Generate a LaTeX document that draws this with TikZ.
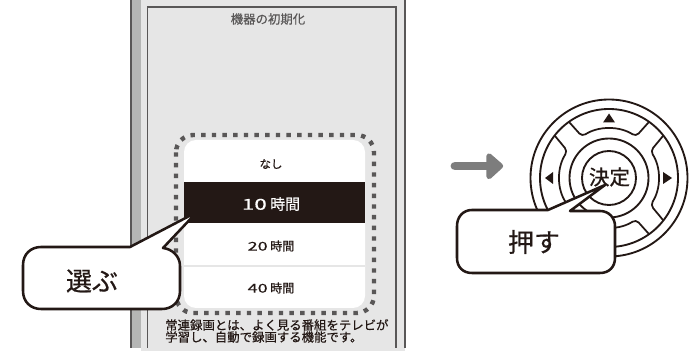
\documentclass[tikz,border=0pt]{standalone}
\usepackage{fontspec}
\setmainfont[FakeBold=0.6]{Noto Sans CJK JP}
\newfontfamily\widedigits[FakeStretch=1.5,FakeBold=0.6]{Noto Sans CJK JP}
\definecolor{ink}{HTML}{231815}
\definecolor{panel}{HTML}{E6E6E6}
\definecolor{strip}{HTML}{B5B6B5}
\definecolor{dots}{HTML}{595757}
\definecolor{arrowgrey}{HTML}{7D7D7D}
\tikzset{
  frameline/.style={draw=dots,line width=1.1pt},
  callout/.style={draw=ink,fill=white,line width=1.9pt,line join=round},
  remoteline/.style={draw=ink,line width=1.4pt},
  keyline/.style={draw=ink,line width=1.3pt,rounded corners=3pt},
  tri/.style={fill=ink},
  label/.style={inner sep=0pt,text=ink,font=\fontsize{9}{9}\selectfont},
}
\newcommand{\keyshape}[3]{% rotation, half angle at rim, half angle at arc
  \draw[keyline,rotate around={#1:(R)}] ($(R)+({90+#2}:69)$) -- ($(R)+({90+#3}:49.5)$) arc[start angle={90+#3},end angle={90-#3},radius=49.5] -- ($(R)+({90-#2}:69)$);
}
\usetikzlibrary{calc}
\begin{document}
\begin{tikzpicture}[x=0.75pt,y=-0.75pt,line cap=butt]
\useasboundingbox (0,0) rectangle (693,352);
% panel
\fill[panel] (141,0) rectangle (405,351);
\fill[strip] (131,0) rectangle (141,348);
\draw[frameline] (131,0) -- (131,348);
\draw[frameline] (405,0) -- (405,348);
\draw[frameline] (147.5,348) -- (147.5,7) -- (396,7) -- (396,348);
\node[label,text=dots,font=\fontsize{9.3}{9.3}\selectfont] (title) at (268,19) {機器の初期化};
% list
\fill[white,rounded corners=9pt] (184,140) rectangle (365,308);
\fill[ink] (184,182) rectangle (365,223);
\draw[panel,line width=1pt] (184,266) -- (365,266);
\draw[draw=dots,line width=3.3pt,dash pattern=on 3.3pt off 4.7pt,rounded corners=13pt] (176,135) rectangle (374,313);
\node[label,font=\fontsize{8.6}{9}\selectfont] (none) at (271,164) {なし};
\node[label,text=white,font=\fontsize{11.25}{12}\selectfont] (h10) at (271,204) {{\widedigits 10} 時間};
\node[label,font=\fontsize{9}{10}\selectfont] (h20) at (271,246) {{\widedigits 20} 時間};
\node[label,font=\fontsize{9}{10}\selectfont] (h40) at (271,288) {{\widedigits 40} 時間};
\node[label,anchor=west,font=\fontsize{9.3}{9.3}\selectfont] (note1) at (165,325) {常連録画とは、よく見る番組をテレビが};
\node[label,anchor=west,font=\fontsize{9.3}{9.3}\selectfont] (note2) at (165,337) {学習し、自動で録画する機能です。};
% callout select
\draw[callout] (130,247) -- (197,212) -- (163,248) .. controls (172,249) and (180,256) .. (180,266) -- (180,291) .. controls (180,302) and (172,309) .. (162,309) -- (41,309) .. controls (31,309) and (23,302) .. (23,291) -- (23,265) .. controls (23,254) and (31,247) .. (41,247) -- cycle;
\node[label,font=\fontsize{19.5}{20}\selectfont] (select) at (92,281) {選ぶ};
% arrow
\draw[arrowgrey,line width=6.7pt,line cap=round] (455,166) -- (490,166);
\fill[arrowgrey,draw=arrowgrey,line width=4pt,line join=round] (489,156) -- (500.5,166) -- (489,176.5) -- cycle;
% remote
\coordinate (R) at (609,178);
\draw[remoteline,fill=white] (R) circle[radius=78.5];
\draw[remoteline] (R) circle[radius=69];
\keyshape{0}{35.5}{33}
\keyshape{90}{38}{33}
\keyshape{180}{35.5}{33}
\keyshape{270}{38}{33}
\draw[remoteline] (R) circle[radius=39.5];
\draw[remoteline] (R) circle[radius=27];
\fill[tri] (609,113.5) -- (615,122.5) -- (603,122.5) -- cycle;
\fill[tri] (545,178) -- (553,172) -- (553,184) -- cycle;
\fill[tri] (672,178) -- (663,172) -- (663,184) -- cycle;
\node[label,font=\fontsize{15.4}{16}\selectfont] (enter) at (609.5,177) {決定};
% callout push
\draw[callout] (548,210) -- (605,185) -- (570,211) -- (600,211) .. controls (609,211) and (615,218) .. (615,226) -- (615,258) .. controls (615,267) and (609,273) .. (600,273) -- (472,273) .. controls (463,273) and (457,267) .. (457,258) -- (457,226) .. controls (457,217) and (463,210) .. (472,210) -- cycle;
\node[label,font=\fontsize{19.5}{20}\selectfont] (push) at (534,242) {押す};
\end{tikzpicture}
\end{document}
